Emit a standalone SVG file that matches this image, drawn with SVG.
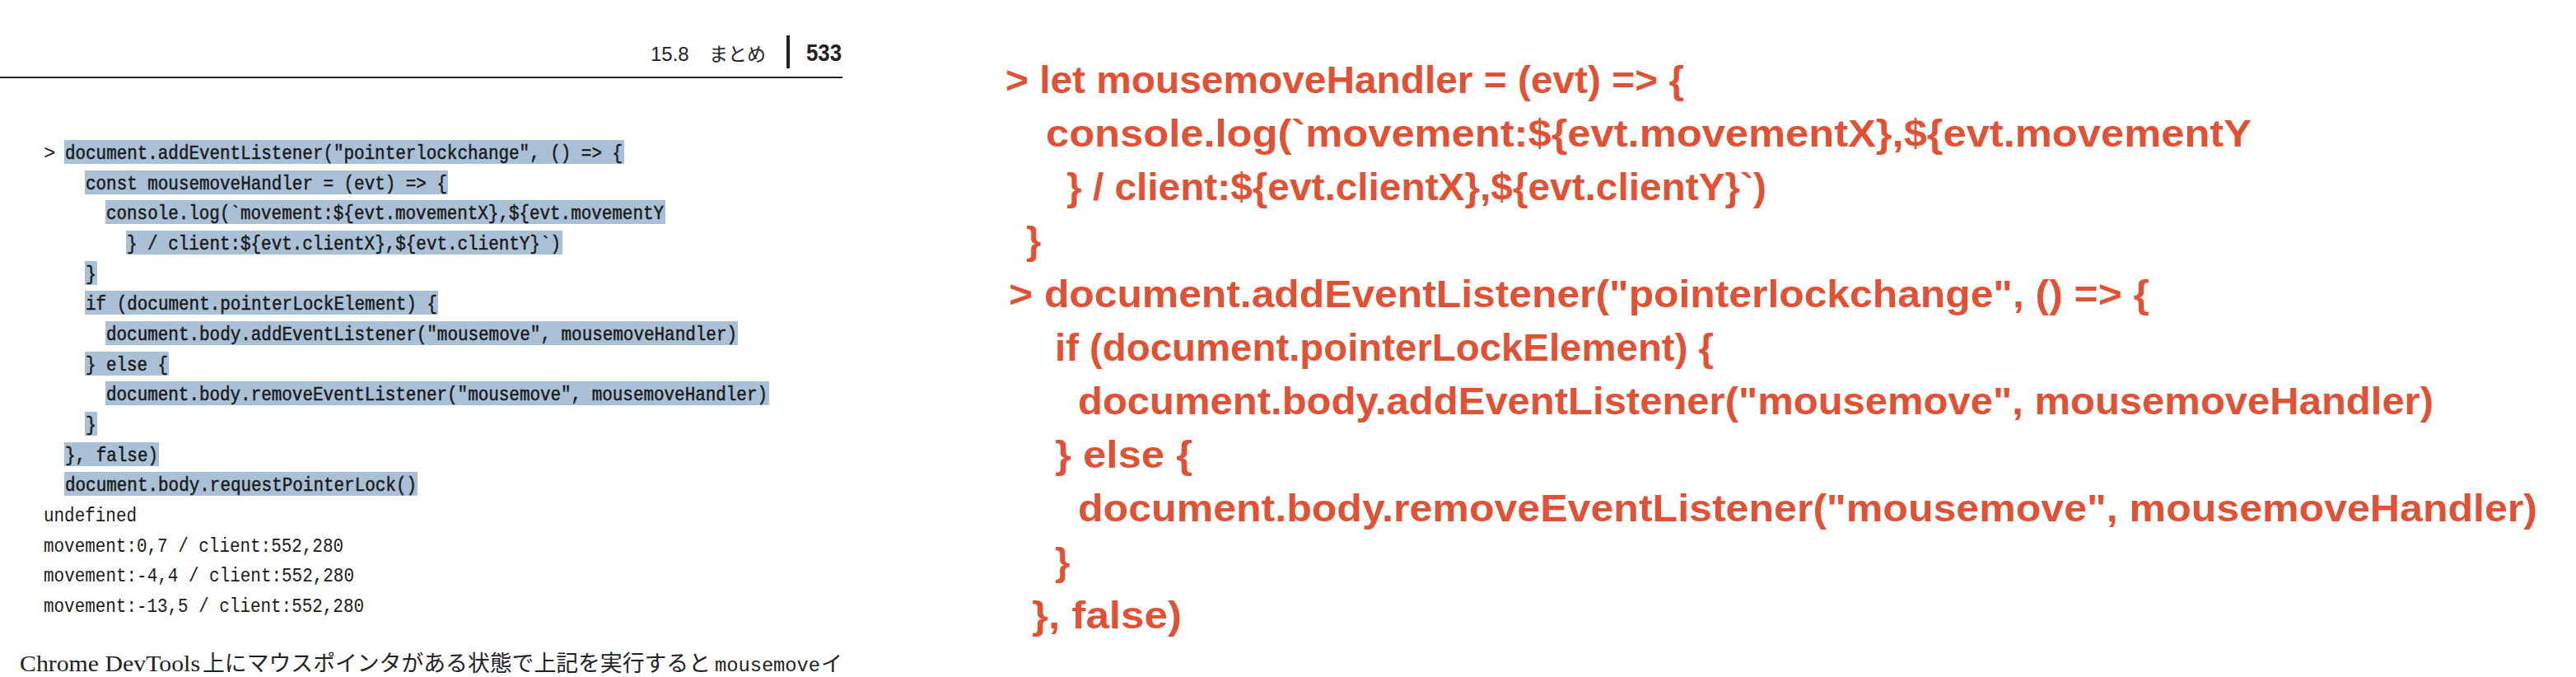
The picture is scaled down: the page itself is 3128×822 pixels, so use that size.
<svg xmlns="http://www.w3.org/2000/svg" width="3128" height="822" viewBox="0 0 3128 822">
<style>
.hdr{font-family:"Liberation Sans","Noto Sans CJK JP",sans-serif;fill:#222;}
.mono{font-family:"Liberation Mono","DejaVu Sans Mono",monospace;font-size:24px;fill:#1a1a1a;}
.code{stroke:#1a1a1a;stroke-width:0.5;}
.hl{fill:#a9c0d7;}
.red{font-family:"Liberation Sans",Arial,sans-serif;font-weight:bold;font-size:47px;fill:#e05236;}
</style>
<rect width="3128" height="822" fill="#ffffff"/>

<g id="page-header">
  <text class="hdr" x="790" y="74" font-size="24">15.8</text>
  <text class="hdr" x="861" y="74" font-size="23" textLength="69" lengthAdjust="spacingAndGlyphs">まとめ</text>
  <rect x="955" y="43" width="4" height="40" fill="#222"/>
  <text class="hdr" x="979" y="74" font-size="29" font-weight="bold" textLength="43" lengthAdjust="spacingAndGlyphs">533</text>
  <line x1="0" y1="94" x2="1023" y2="94" stroke="#222" stroke-width="2"/>
</g>

<g id="console-listing">
  <text class="mono" x="53" y="193">&gt;</text>
  <rect class="hl" x="78" y="170" width="680" height="29"/>
  <text class="mono code" x="79" y="193" textLength="677" lengthAdjust="spacingAndGlyphs">document.addEventListener("pointerlockchange", () =&gt; {</text>

  <rect class="hl" x="103" y="207" width="441" height="29"/>
  <text class="mono code" x="104" y="230" textLength="439" lengthAdjust="spacingAndGlyphs">const mousemoveHandler = (evt) =&gt; {</text>

  <rect class="hl" x="128" y="243" width="680" height="29"/>
  <text class="mono code" x="129" y="266" textLength="677" lengthAdjust="spacingAndGlyphs">console.log(`movement:${evt.movementX},${evt.movementY</text>

  <rect class="hl" x="153" y="280" width="530" height="29"/>
  <text class="mono code" x="154" y="303" textLength="527" lengthAdjust="spacingAndGlyphs">} / client:${evt.clientX},${evt.clientY}`)</text>

  <rect class="hl" x="103" y="317" width="15" height="29"/>
  <text class="mono code" x="104" y="340" textLength="13" lengthAdjust="spacingAndGlyphs">}</text>

  <rect class="hl" x="103" y="353" width="429" height="29"/>
  <text class="mono code" x="104" y="376" textLength="427" lengthAdjust="spacingAndGlyphs">if (document.pointerLockElement) {</text>

  <rect class="hl" x="128" y="390" width="768" height="29"/>
  <text class="mono code" x="129" y="413" textLength="766" lengthAdjust="spacingAndGlyphs">document.body.addEventListener("mousemove", mousemoveHandler)</text>

  <rect class="hl" x="103" y="427" width="102" height="29"/>
  <text class="mono code" x="104" y="450" textLength="100" lengthAdjust="spacingAndGlyphs">} else {</text>

  <rect class="hl" x="128" y="463" width="806" height="29"/>
  <text class="mono code" x="129" y="486" textLength="803" lengthAdjust="spacingAndGlyphs">document.body.removeEventListener("mousemove", mousemoveHandler)</text>

  <rect class="hl" x="103" y="500" width="15" height="29"/>
  <text class="mono code" x="104" y="523" textLength="13" lengthAdjust="spacingAndGlyphs">}</text>

  <rect class="hl" x="78" y="537" width="115" height="29"/>
  <text class="mono code" x="79" y="560" textLength="113" lengthAdjust="spacingAndGlyphs">}, false)</text>

  <rect class="hl" x="78" y="573" width="429" height="29"/>
  <text class="mono code" x="79" y="596" textLength="427" lengthAdjust="spacingAndGlyphs">document.body.requestPointerLock()</text>

  <text class="mono" x="53" y="633" textLength="113" lengthAdjust="spacingAndGlyphs">undefined</text>
  <text class="mono" x="53" y="670" textLength="364" lengthAdjust="spacingAndGlyphs">movement:0,7 / client:552,280</text>
  <text class="mono" x="53" y="706" textLength="377" lengthAdjust="spacingAndGlyphs">movement:-4,4 / client:552,280</text>
  <text class="mono" x="53" y="743" textLength="389" lengthAdjust="spacingAndGlyphs">movement:-13,5 / client:552,280</text>
</g>

<g id="body-text">
  <text x="24" y="815" font-size="27" fill="#222" font-family="'Liberation Serif','Noto Sans CJK JP',serif" textLength="219" lengthAdjust="spacingAndGlyphs">Chrome DevTools</text>
  <text x="246" y="815" font-size="26.8" fill="#222" font-family="'Noto Sans CJK JP',sans-serif" textLength="617" lengthAdjust="spacingAndGlyphs">上にマウスポインタがある状態で上記を実行すると</text>
  <text x="868" y="815" font-size="24" fill="#222" font-family="'Liberation Mono',monospace" textLength="128" lengthAdjust="spacingAndGlyphs">mousemove</text>
  <text x="997" y="815" font-size="26" fill="#222" font-family="'Noto Sans CJK JP',sans-serif">イ</text>
</g>

<g id="enlarged-code">
  <text class="red" x="1221" y="113" textLength="824" lengthAdjust="spacingAndGlyphs">&gt; let mousemoveHandler = (evt) =&gt; {</text>
  <text class="red" x="1270" y="178" textLength="1464" lengthAdjust="spacingAndGlyphs">console.log(`movement:${evt.movementX},${evt.movementY</text>
  <text class="red" x="1295" y="243" textLength="850" lengthAdjust="spacingAndGlyphs">} / client:${evt.clientX},${evt.clientY}`)</text>
  <text class="red" x="1246" y="308">}</text>
  <text class="red" x="1225" y="373" textLength="1385" lengthAdjust="spacingAndGlyphs">&gt; document.addEventListener("pointerlockchange", () =&gt; {</text>
  <text class="red" x="1281" y="438" textLength="800" lengthAdjust="spacingAndGlyphs">if (document.pointerLockElement) {</text>
  <text class="red" x="1309" y="503" textLength="1646" lengthAdjust="spacingAndGlyphs">document.body.addEventListener("mousemove", mousemoveHandler)</text>
  <text class="red" x="1281" y="568" textLength="167" lengthAdjust="spacingAndGlyphs">} else {</text>
  <text class="red" x="1309" y="633" textLength="1772" lengthAdjust="spacingAndGlyphs">document.body.removeEventListener("mousemove", mousemoveHandler)</text>
  <text class="red" x="1281" y="698">}</text>
  <text class="red" x="1253" y="763" textLength="182" lengthAdjust="spacingAndGlyphs">}, false)</text>
</g>
</svg>
